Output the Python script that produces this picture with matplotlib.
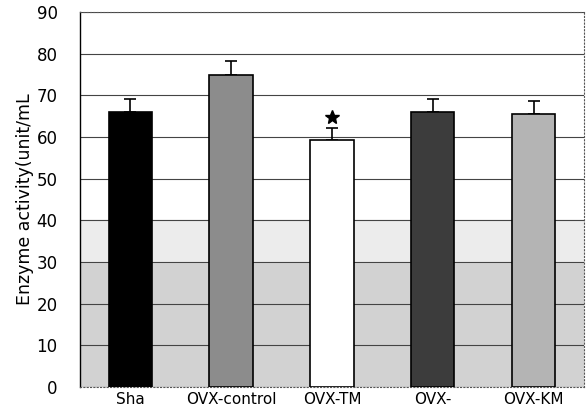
import matplotlib.pyplot as plt
import numpy as np

# values
groups = ['Sha', 'OVX-control', 'OVX-TM', 'OVX-', 'OVX-KM']
means = [66.0, 74.8, 59.2, 66.0, 65.5]
errors = [3.0, 3.4, 2.9, 3.0, 3.1]
colors = ['#000000', '#8c8c8c', '#ffffff', '#3c3c3c', '#b4b4b4']
yticks = np.arange(0, 91, 10)

fig = plt.figure(figsize=(5.87, 4.09), dpi=100)
ax = fig.add_axes([0.136, 0.054, 0.859, 0.917])

# scan-like gray background in the lower part
ax.axhspan(0, 30, color='#d2d2d2', zorder=0)
ax.axhspan(30, 40, color='#ececec', zorder=0)

x = np.arange(len(groups))
ax.bar(x, means, width=0.43, color=colors, edgecolor='black', linewidth=1.2, zorder=3)
ax.errorbar(x, means, yerr=[np.zeros(len(errors)), errors], fmt='none',
            ecolor='black', elinewidth=1.2, capsize=4, capthick=1.2, zorder=2)

# significance mark over OVX-TM
ax.plot(2.0, means[2] + errors[2] + 2.6, marker='*', color='black',
        markersize=10, zorder=4)

ax.set_xlim(-0.5, 4.5)
ax.set_ylim(0, 90)
ax.set_yticks(yticks)
ax.yaxis.grid(True, color='#444444', linewidth=0.8, zorder=1)
ax.set_axisbelow(True)
ax.tick_params(axis='y', length=0, labelsize=12, pad=16)
ax.tick_params(axis='x', length=0, labelsize=11, pad=4)
ax.set_xticks(x)
ax.set_xticklabels(groups)
ax.set_ylabel('Enzyme activity(unit/mL', fontsize=12.5, labelpad=2)

for side in ['top', 'right', 'bottom']:
    ax.spines[side].set_linestyle((0, (1, 2)))
    ax.spines[side].set_color('#555555')
ax.spines['left'].set_linewidth(1.0)

fig.savefig('out.png', dpi=100)
